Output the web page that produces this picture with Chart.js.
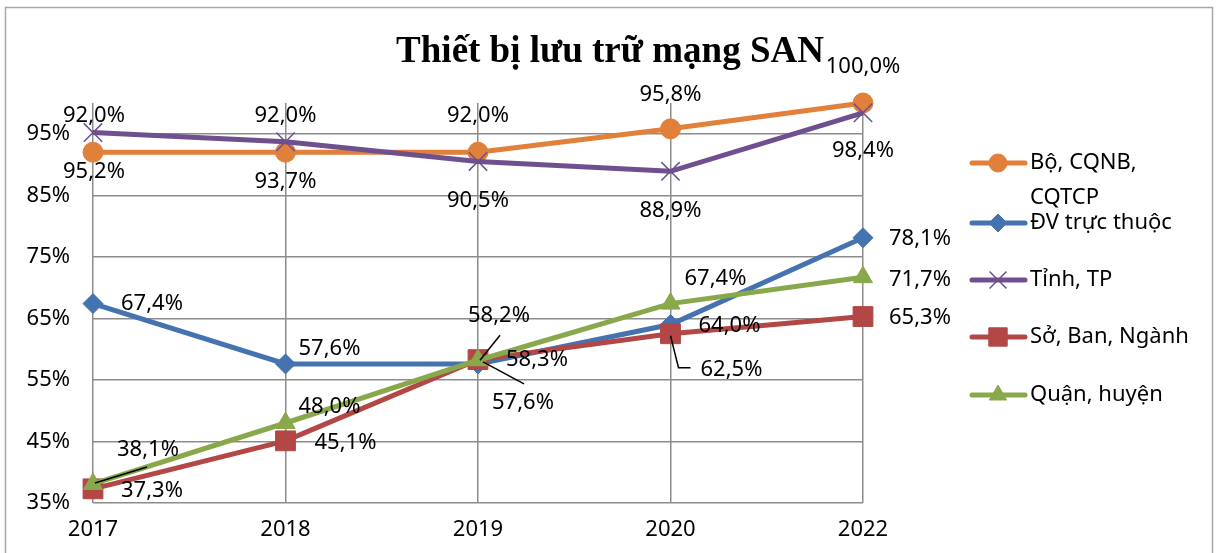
<!DOCTYPE html>
<html>
<head>
<meta charset="utf-8">
<title>Thiết bị lưu trữ mạng SAN</title>
<script src="https://cdn.jsdelivr.net/npm/chart.js@4.4.1/dist/chart.umd.min.js"></script>
<style>
  html, body { margin: 0; padding: 0; background: #fff; }
  #wrap { width: 1216px; height: 553px; position: relative; }
</style>
</head>
<body>
<div id="wrap"><canvas id="sanChart"></canvas></div>
<script>
// Chart data (percent)
const years = ['2017', '2018', '2019', '2020', '2022'];
const seriesNames = ['Bộ, CQNB, CQTCP', 'ĐV trực thuộc', 'Tỉnh, TP', 'Sở, Ban, Ngành', 'Quận, huyện'];
const boCqnb = [92.0, 92.0, 92.0, 95.8, 100.0];
const dvTrucThuoc = [67.4, 57.6, 57.6, 64.0, 78.1];
const tinhTp = [95.2, 93.7, 90.5, 88.9, 98.4];
const soBanNganh = [37.3, 45.1, 58.3, 62.5, 65.3];
const quanHuyen = [38.1, 48.0, 58.2, 67.4, 71.7];
const yTicks = [35, 45, 55, 65, 75, 85, 95];

// Styling
const colors = ['#e0803a', '#4473b0', '#6f508f', '#b24745', '#88a84b'];
const markers = [
  { style: 'circle', radius: 10, border: 1 },
  { style: 'rectRot', radius: 10, border: 1 },
  { style: 'crossRot', radius: 13, border: 1.5 },
  { style: 'rect', radius: 14, border: 1 },
  { style: 'triangle', radius: 11, border: 1 }
];
const FONT = '"Noto Sans", "DejaVu Sans", sans-serif';

// Label offsets from each point [dx, dy] (as the labels sit in the picture)
const labelOffsets = [
  [[1, -36], [0, -36], [0, -36], [0, -34], [0, -36]],
  [[59, 0], [44, -15], [45, 39], [59, 1], [57, 1]],
  [[1, 39], [0, 40], [0, 39], [0, 39], [0, 38]],
  [[59, 2], [60, 2], [59, 0], [61, 36], [57, 1]],
  [[55, -34], [44, -16], [21, -44], [45, -25], [57, 3]]
];
// leader lines: key "series-point" -> list of offsets
const leaders = {
  '1-2': [[5, -2], [46, 20]],
  '3-3': [[0, 2], [8, 34], [20, 34]],
  '4-0': [[2, -1], [54, -17]],
  '4-2': [[2, 0], [22, -25]]
};
const legendRows = [163, 223, 280, 337, 395];

const seriesData = [boCqnb, dvTrucThuoc, tinhTp, soBanNganh, quanHuyen];

function fmt(v) {
  return v.toFixed(1).replace('.', ',') + '%';
}

const frameAndTitle = {
  id: 'frameAndTitle',
  beforeDraw(chart) {
    const ctx = chart.ctx;
    ctx.save();
    ctx.fillStyle = '#fff';
    ctx.fillRect(0, 0, chart.width, chart.height);
    ctx.strokeStyle = '#a6a6a6';
    ctx.lineWidth = 1.5;
    ctx.strokeRect(5.5, 7.5, 1207, 560);
    ctx.restore();
  },
  afterDraw(chart) {
    const ctx = chart.ctx;
    ctx.save();
    ctx.fillStyle = '#000';
    ctx.font = 'bold 37px "Liberation Serif", "Times New Roman", serif';
    ctx.textAlign = 'center';
    ctx.textBaseline = 'alphabetic';
    ctx.fillText('Thiết bị lưu trữ mạng SAN', 610, 62);
    ctx.restore();
  }
};

const dataLabels = {
  id: 'dataLabels',
  afterDatasetsDraw(chart) {
    const ctx = chart.ctx;
    ctx.save();
    ctx.font = '22px ' + FONT;
    ctx.fillStyle = '#000';
    ctx.textAlign = 'center';
    ctx.textBaseline = 'middle';
    chart.data.datasets.forEach((ds, i) => {
      const meta = chart.getDatasetMeta(i);
      meta.data.forEach((pt, j) => {
        const off = labelOffsets[i][j];
        const lead = leaders[i + '-' + j];
        if (lead) {
          ctx.strokeStyle = '#000';
          ctx.lineWidth = 1.5;
          ctx.beginPath();
          lead.forEach((p, k) => {
            if (k === 0) ctx.moveTo(pt.x + p[0], pt.y + p[1]);
            else ctx.lineTo(pt.x + p[0], pt.y + p[1]);
          });
          ctx.stroke();
        }
        ctx.fillText(fmt(ds.data[j]), pt.x + off[0], pt.y + off[1]);
      });
    });
    ctx.restore();
  }
};

const sideLegend = {
  id: 'sideLegend',
  afterDraw(chart) {
    const ctx = chart.ctx;
    ctx.save();
    ctx.font = '22px ' + FONT;
    ctx.textBaseline = 'middle';
    ctx.textAlign = 'left';
    chart.data.datasets.forEach((ds, i) => {
      const y = legendRows[i];
      ctx.strokeStyle = ds.borderColor;
      ctx.fillStyle = ds.borderColor;
      ctx.lineWidth = 5;
      ctx.lineCap = 'round';
      ctx.beginPath();
      ctx.moveTo(972, y);
      ctx.lineTo(1025, y);
      ctx.stroke();
      ctx.lineCap = 'butt';
      ctx.lineWidth = markers[i].border;
      Chart.helpers.drawPoint(ctx, {
        pointStyle: markers[i].style,
        radius: markers[i].radius - 1,
        borderWidth: markers[i].border,
        rotation: 0
      }, 998, y);

      // simple word wrap
      const words = ds.label.split(' ');
      const lines = [];
      let line = '';
      words.forEach(w => {
        const test = line ? line + ' ' + w : w;
        if (ctx.measureText(test).width > 172 && line) {
          lines.push(line);
          line = w;
        } else {
          line = test;
        }
      });
      lines.push(line);
      ctx.fillStyle = '#000';
      lines.forEach((l, k) => ctx.fillText(l, 1030, y + k * 35));
    });
    ctx.restore();
  }
};

const datasets = seriesData.map((d, i) => ({
  label: seriesNames[i],
  data: d,
  borderColor: colors[i],
  backgroundColor: colors[i],
  borderWidth: 5,
  pointStyle: markers[i].style,
  pointRadius: markers[i].radius,
  pointBorderWidth: markers[i].border,
  pointBackgroundColor: colors[i],
  pointBorderColor: colors[i],
  tension: 0,
  clip: false,
  order: seriesData.length - 1 - i
}));

const gridColor = '#8c8c8c';

new Chart(document.getElementById('sanChart'), {
  type: 'line',
  data: { labels: years, datasets: datasets },
  options: {
    responsive: true,
    maintainAspectRatio: false,
    animation: false,
    layout: { padding: { top: 103, right: 353, left: 0, bottom: 0 } },
    plugins: {
      legend: { display: false },
      title: { display: false },
      tooltip: { enabled: false }
    },
    scales: {
      x: {
        offset: false,
        grid: { color: gridColor, lineWidth: 1.5, drawTicks: false },
        border: { display: false },
        ticks: { color: '#000', font: { size: 22, family: FONT }, padding: 14, maxRotation: 0 },
        afterFit: s => { s.height = 50; }
      },
      y: {
        min: 35,
        max: 100,
        afterBuildTicks: s => { s.ticks = yTicks.map(v => ({ value: v })); },
        grid: { color: gridColor, lineWidth: 1.5, drawTicks: false },
        border: { display: false },
        ticks: { color: '#000', font: { size: 22, family: FONT }, padding: 23, callback: v => v + '%' },
        afterFit: s => { s.width = 93; }
      }
    }
  },
  plugins: [frameAndTitle, dataLabels, sideLegend]
});
</script>
</body>
</html>
